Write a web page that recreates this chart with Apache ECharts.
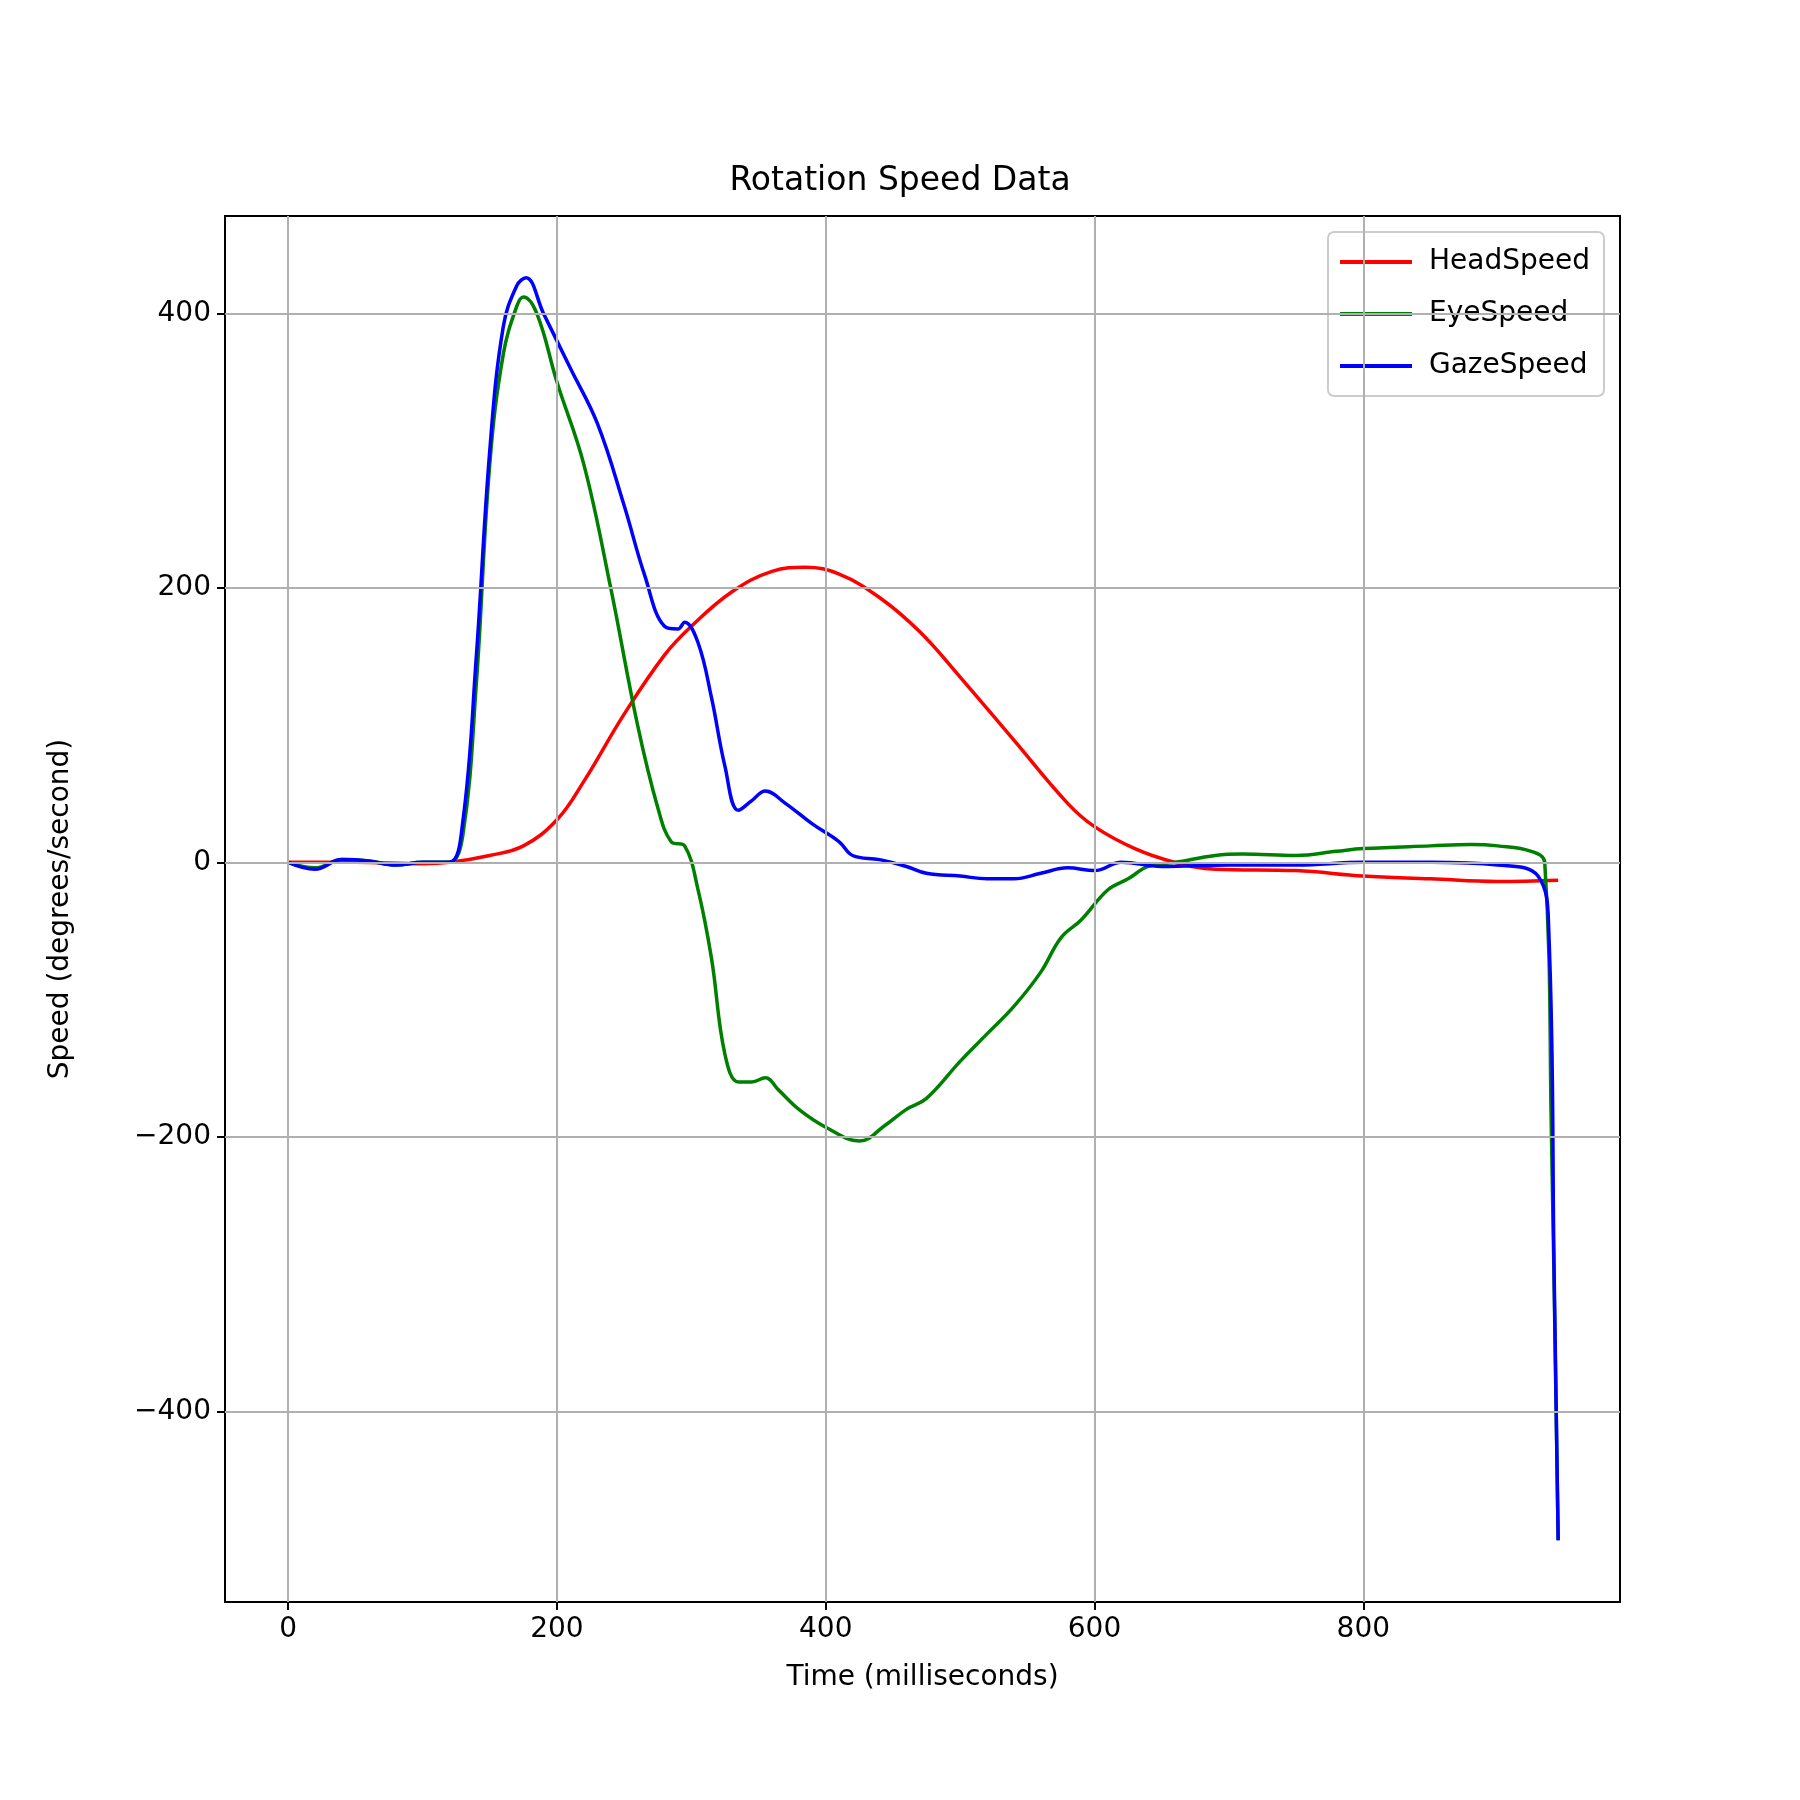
<!DOCTYPE html>
<html><head><meta charset="utf-8">
<script src="https://cdn.jsdelivr.net/npm/echarts@6/dist/echarts.min.js"></script>
<style>html,body{margin:0;padding:0;background:#fff}#c{width:1800px;height:1800px}</style>
</head><body><div id="c"></div>
<script>
const headSpeed = [[0,0],[50,0],[100,-1],[120,0],[150,5],[175,12],[200,31],[220,59],[250,108],[280,151],[300,172],[330,197],[360,212],[385,215],[410,210],[440,193],[470,168],[500,135],[540,89],[580,43],[600,26],[630,10],[660,0],[690,-5],[750,-6],[800,-10],[850,-12],[900,-14],[945,-13]];
const eyeSpeed = [[0,0],[20,-4],[40,2],[60,1],[80,-2],[100,0],[120,0],[130,20],[140,130],[150,290],[160,370],[170,405],[175,412],[185,400],[200,350],[220,290],[240,200],[260,100],[275,40],[285,15],[295,12],[305,-20],[315,-70],[325,-140],[335,-160],[345,-160],[355,-157],[365,-166],[380,-180],[400,-193],[425,-203],[445,-191],[460,-180],[475,-172],[500,-145],[520,-125],[540,-105],[560,-80],[575,-55],[590,-42],[610,-20],[625,-12],[640,-3],[660,0],[690,5],[710,6],[750,5],[780,8],[800,10],[850,12],[880,13],[900,12],[925,8],[935,0],[940,-200],[945,-494]];
const gazeSpeed = [[0,0],[20,-5],[40,2],[60,1],[80,-2],[100,0],[120,0],[130,30],[140,150],[150,300],[160,390],[170,420],[177,426],[190,400],[210,360],[230,320],[250,260],[265,210],[280,172],[290,170],[295,175],[305,160],[315,120],[325,70],[335,38],[345,45],[355,52],[370,43],[390,28],[410,15],[420,5],[440,2],[460,-3],[475,-8],[500,-10],[520,-12],[540,-12],[560,-8],[580,-4],[600,-6],[620,0],[650,-3],[700,-2],[750,-2],[800,0],[850,0],[900,-2],[930,-10],[938,-50],[942,-300],[945,-494]];
const xTicks=[0,200,400,600,800];
const yTicks=[-400,-200,0,200,400];
const c=echarts.init(document.getElementById('c'));
const font='DejaVu Sans';
function s(name,data,color){return {name,type:'line',data,smooth:0.4,showSymbol:false,lineStyle:{color,width:3.5},itemStyle:{color}};}
c.setOption({
 animation:false,
 title:{text:'Rotation Speed Data',left:'center',top:160,textStyle:{fontFamily:font,fontSize:33,fontWeight:'normal',color:'#000'}},
 grid:{left:225,right:180,top:216,bottom:198,show:true,borderColor:'#000',borderWidth:2,backgroundColor:'transparent'},
 legend:{right:196,top:232,orient:'vertical',itemWidth:72,itemHeight:4,itemGap:24,padding:[16,14,16,12],backgroundColor:'rgba(255,255,255,0.85)',borderColor:'#ccc',borderWidth:2,borderRadius:6,textStyle:{fontFamily:font,fontSize:28,color:'#000',padding:[0,0,0,12]},icon:'rect',data:['HeadSpeed','EyeSpeed','GazeSpeed']},
 xAxis:{type:'value',min:-47,max:991,interval:200,name:'Time (milliseconds)',nameLocation:'middle',nameGap:62,nameTextStyle:{fontFamily:font,fontSize:28,color:'#000'},
  axisLine:{onZero:false,lineStyle:{color:'#000',width:2}},axisTick:{show:true,length:8,lineStyle:{color:'#000',width:2},customValues:xTicks},
  axisLabel:{fontFamily:font,fontSize:28,color:'#000',margin:14,customValues:xTicks},splitLine:{show:false}},
 yAxis:{type:'value',min:-539,max:471,interval:200,name:'Speed (degrees/second)',nameLocation:'middle',nameGap:150,nameTextStyle:{fontFamily:font,fontSize:28,color:'#000'},
  axisLine:{show:true,onZero:false,lineStyle:{color:'#000',width:2}},axisTick:{show:true,length:8,lineStyle:{color:'#000',width:2},customValues:yTicks},
  axisLabel:{fontFamily:font,fontSize:28,color:'#000',margin:14,customValues:yTicks,formatter:v=>v<0?'\u2212'+(-v):''+v},splitLine:{show:false}},
 series:[
  {type:'line',data:[],markLine:{silent:true,symbol:'none',label:{show:false},lineStyle:{color:'#b0b0b0',width:2,type:'solid'},
   data:[...xTicks.map(v=>({xAxis:v})),...yTicks.map(v=>({yAxis:v}))]}},
  s('HeadSpeed',headSpeed,'#ff0000'),s('EyeSpeed',eyeSpeed,'#008000'),s('GazeSpeed',gazeSpeed,'#0000ff')
 ]
});
</script></body></html>
